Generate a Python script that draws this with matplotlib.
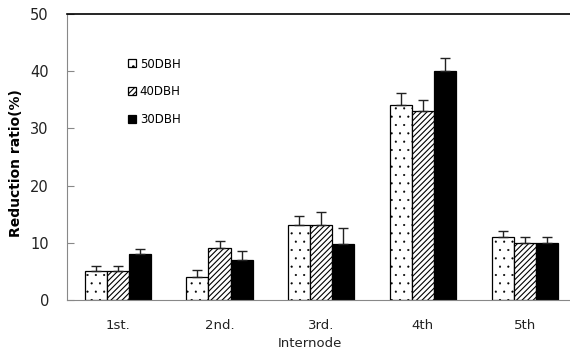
import matplotlib
matplotlib.use("Agg")
import matplotlib.pyplot as plt
import numpy as np

internodes = ["1st.", "2nd.", "3rd.", "4th", "5th"]
series = ["50DBH", "40DBH", "30DBH"]
dbh50 = [5.0, 4.0, 13.1, 34.1, 11.0]
dbh40 = [5.0, 9.0, 13.1, 33.1, 10.0]
dbh30 = [8.0, 7.0, 9.8, 40.0, 9.9]
err50 = [0.9, 1.2, 1.6, 2.0, 1.0]
err40 = [0.9, 1.3, 2.3, 1.9, 1.0]
err30 = [0.9, 1.6, 2.8, 2.3, 1.1]

fig = plt.figure(figsize=(5.7, 3.55), dpi=100)
ax = fig.add_axes([0.1175, 0.155, 0.8825, 0.8056])

x = np.arange(len(internodes))
w = 0.217
# facecolor, hatch, hatch linewidth
styles = [("white", "..", 0.3), ("white", "//////", 0.8), ("black", None, 0.8)]
for i, (vals, errs, lab) in enumerate(zip([dbh50, dbh40, dbh30],
                                          [err50, err40, err30], series)):
    fc, hatch, hlw = styles[i]
    plt.rcParams['hatch.linewidth'] = hlw
    ax.bar(x + (i - 1) * w, vals, w, color=fc, edgecolor="black",
           linewidth=0.9, hatch=hatch, label=lab,
           yerr=[np.zeros(len(errs)), errs], capsize=3.5,
           error_kw=dict(ecolor="#222222", elinewidth=1, capthick=1))

ax.set_xlim(-0.5, 4.446)
ax.set_ylim(0, 50)
ax.set_yticks(range(0, 51, 10))
ax.set_xticks(x)
ax.set_xticklabels(internodes, fontsize=9.5, color="#222222")
ax.tick_params(axis="x", length=0, pad=14)
ax.tick_params(axis="y", direction="in", length=5, color="#888888",
               labelsize=10.5, labelcolor="#222222", pad=13)
ax.set_xlabel("Internode", fontsize=9.5, color="#222222")
ax.xaxis.set_label_coords(0.483, -0.13)
ax.set_ylabel("Reduction ratio(%)", fontsize=10, fontweight="bold")
ax.yaxis.set_label_coords(-0.087, 0.48)

ax.spines["right"].set_visible(False)
ax.spines["left"].set_color("#888888")
ax.spines["bottom"].set_color("#888888")
ax.spines["top"].set_color("black")
ax.spines["top"].set_linewidth(1.2)

ax.legend(loc="upper left", bbox_to_anchor=(0.1, 0.885), frameon=False,
          fontsize=8.5, handlelength=0.65, handleheight=0.65,
          handletextpad=0.35, labelspacing=1.25)

fig.savefig("out.png", dpi=100)
